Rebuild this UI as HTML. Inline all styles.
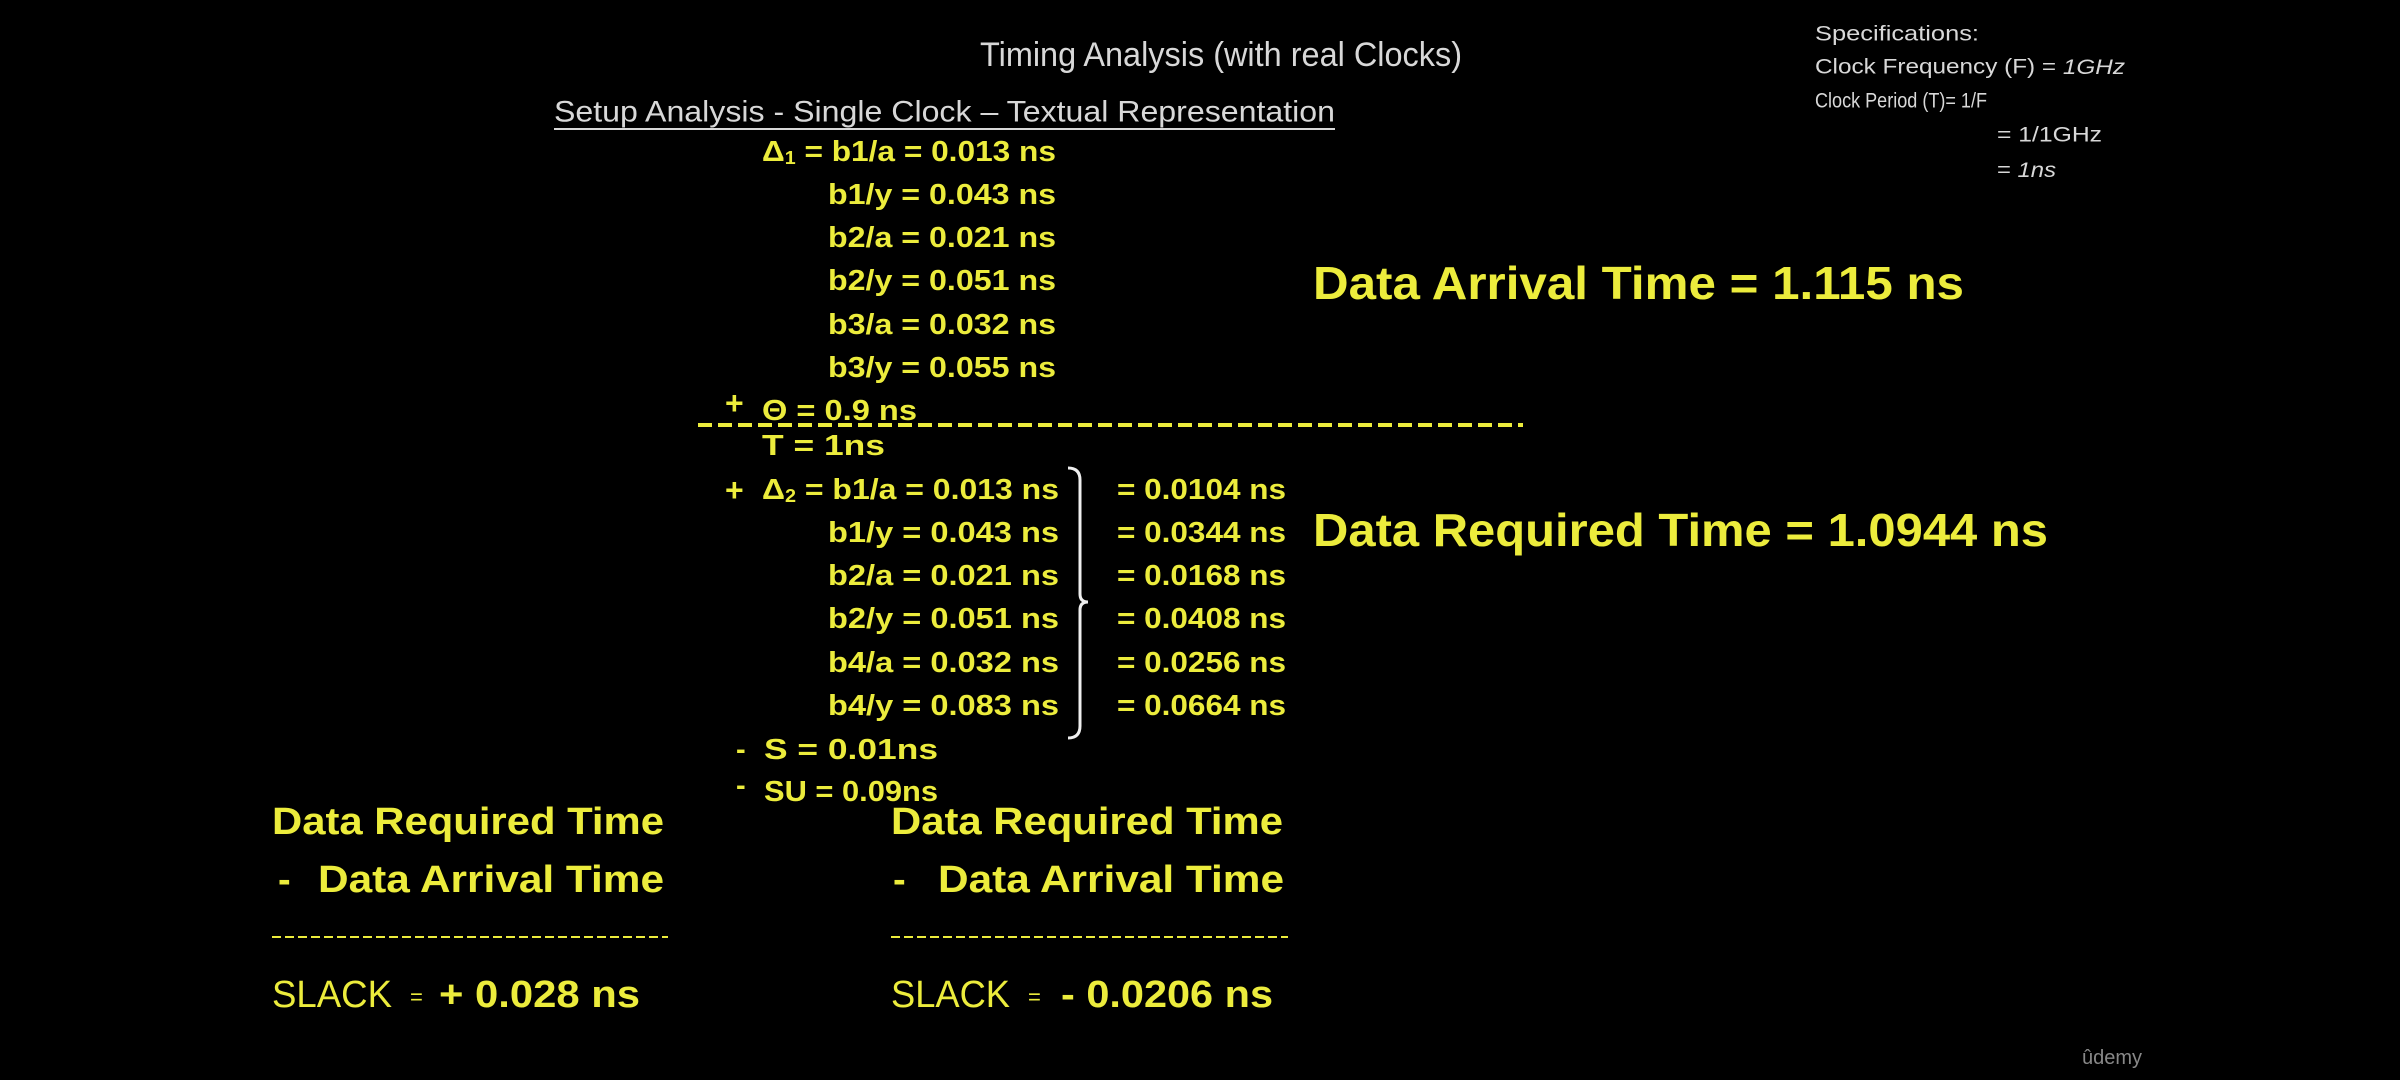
<!DOCTYPE html>
<html><head><meta charset="utf-8"><style>
html,body{margin:0;padding:0;background:#000;}
svg{display:block;}
text{font-family:"Liberation Sans Narrow","Liberation Sans",sans-serif;dominant-baseline:central;}
.y{fill:#ecec3c;font-weight:bold;}
.g{fill:#d8d8d8;}
</style></head><body>
<svg width="2400" height="1080" viewBox="0 0 2400 1080" xmlns="http://www.w3.org/2000/svg">
<rect width="2400" height="1080" fill="#000"/>
<text class="g" x="980" y="55" font-size="34" textLength="482" lengthAdjust="spacingAndGlyphs">Timing Analysis (with real Clocks)</text>
<text class="g" x="554" y="112" font-size="30" textLength="781" lengthAdjust="spacingAndGlyphs">Setup Analysis - Single Clock – Textual Representation</text>
<line x1="554" y1="129" x2="1335" y2="129" stroke="#d8d8d8" stroke-width="2"/>

<g class="g" font-size="21">
<text x="1815" y="34" textLength="164" lengthAdjust="spacingAndGlyphs">Specifications:</text>
<text x="1815" y="67" textLength="310" lengthAdjust="spacingAndGlyphs">Clock Frequency (F) = <tspan font-style="italic">1GHz</tspan></text>
<text x="1815" y="101" textLength="172" lengthAdjust="spacingAndGlyphs">Clock Period (T)= 1/F</text>
<text x="1997" y="135" textLength="105" lengthAdjust="spacingAndGlyphs">= 1/1GHz</text>
<text x="1997" y="170" textLength="59" lengthAdjust="spacingAndGlyphs">= <tspan font-style="italic">1ns</tspan></text>
</g>

<g font-size="29">
<text class="y" x="762" y="152" textLength="294" lengthAdjust="spacingAndGlyphs">Δ<tspan font-size="18" dy="6">1</tspan><tspan dy="-6"> = b1/a = 0.013 ns</tspan></text>
<text class="y" x="828" y="195" textLength="228" lengthAdjust="spacingAndGlyphs">b1/y = 0.043 ns</text>
<text class="y" x="828" y="238" textLength="228" lengthAdjust="spacingAndGlyphs">b2/a = 0.021 ns</text>
<text class="y" x="828" y="281" textLength="228" lengthAdjust="spacingAndGlyphs">b2/y = 0.051 ns</text>
<text class="y" x="828" y="325" textLength="228" lengthAdjust="spacingAndGlyphs">b3/a = 0.032 ns</text>
<text class="y" x="828" y="368" textLength="228" lengthAdjust="spacingAndGlyphs">b3/y = 0.055 ns</text>
<text class="y" x="725" y="403" font-size="32">+</text>
<text class="y" x="762" y="411" textLength="155" lengthAdjust="spacingAndGlyphs">Θ = 0.9 ns</text>
</g>
<line x1="698" y1="425" x2="1523" y2="425" stroke="#ecec3c" stroke-width="4" stroke-dasharray="14 6"/>

<g font-size="29">
<text class="y" x="762" y="446" textLength="123" lengthAdjust="spacingAndGlyphs">T = 1ns</text>
<text class="y" x="725" y="490" font-size="32">+</text>
<text class="y" x="762" y="490" textLength="297" lengthAdjust="spacingAndGlyphs">Δ<tspan font-size="18" dy="6">2</tspan><tspan dy="-6"> = b1/a = 0.013 ns</tspan></text>
<text class="y" x="828" y="533" textLength="231" lengthAdjust="spacingAndGlyphs">b1/y = 0.043 ns</text>
<text class="y" x="828" y="576" textLength="231" lengthAdjust="spacingAndGlyphs">b2/a = 0.021 ns</text>
<text class="y" x="828" y="619" textLength="231" lengthAdjust="spacingAndGlyphs">b2/y = 0.051 ns</text>
<text class="y" x="828" y="663" textLength="231" lengthAdjust="spacingAndGlyphs">b4/a = 0.032 ns</text>
<text class="y" x="828" y="706" textLength="231" lengthAdjust="spacingAndGlyphs">b4/y = 0.083 ns</text>
<path d="M1068 468 Q1080 468 1080 480 L1080 594 Q1080 602 1088 602 Q1080 602 1080 610 L1080 726 Q1080 738 1068 738" fill="none" stroke="#eee" stroke-width="3"/>
<text class="y" x="1117" y="490" textLength="169" lengthAdjust="spacingAndGlyphs">= 0.0104 ns</text>
<text class="y" x="1117" y="533" textLength="169" lengthAdjust="spacingAndGlyphs">= 0.0344 ns</text>
<text class="y" x="1117" y="576" textLength="169" lengthAdjust="spacingAndGlyphs">= 0.0168 ns</text>
<text class="y" x="1117" y="619" textLength="169" lengthAdjust="spacingAndGlyphs">= 0.0408 ns</text>
<text class="y" x="1117" y="663" textLength="169" lengthAdjust="spacingAndGlyphs">= 0.0256 ns</text>
<text class="y" x="1117" y="706" textLength="169" lengthAdjust="spacingAndGlyphs">= 0.0664 ns</text>
<text class="y" x="736" y="750">-</text>
<text class="y" x="764" y="750" textLength="174" lengthAdjust="spacingAndGlyphs">S   = 0.01ns</text>
<text class="y" x="736" y="786">-</text>
<text class="y" x="764" y="792" textLength="174" lengthAdjust="spacingAndGlyphs">SU = 0.09ns</text>
</g>

<text class="y" x="1313" y="283" font-size="46" textLength="651" lengthAdjust="spacingAndGlyphs">Data Arrival Time = 1.115 ns</text>
<text class="y" x="1313" y="530" font-size="46" textLength="735" lengthAdjust="spacingAndGlyphs">Data Required Time = 1.0944 ns</text>

<g font-size="38">
<text class="y" x="272" y="822" textLength="392" lengthAdjust="spacingAndGlyphs">Data Required Time</text>
<text class="y" x="278" y="880">-</text>
<text class="y" x="318" y="880" textLength="346" lengthAdjust="spacingAndGlyphs">Data Arrival Time</text>
<line x1="272" y1="937" x2="668" y2="937" stroke="#ecec3c" stroke-width="2" stroke-dasharray="9 4"/>
<text class="y" x="272" y="995" font-weight="normal" textLength="120" lengthAdjust="spacingAndGlyphs" style="font-weight:normal">SLACK</text>
<text class="y" x="410" y="997" font-size="22" style="font-weight:normal">=</text>
<text class="y" x="439" y="995" textLength="201" lengthAdjust="spacingAndGlyphs">+ 0.028 ns</text>
</g>
<g font-size="38">
<text class="y" x="891" y="822" textLength="392" lengthAdjust="spacingAndGlyphs">Data Required Time</text>
<text class="y" x="893" y="880">-</text>
<text class="y" x="938" y="880" textLength="346" lengthAdjust="spacingAndGlyphs">Data Arrival Time</text>
<line x1="891" y1="937" x2="1288" y2="937" stroke="#ecec3c" stroke-width="2" stroke-dasharray="9 4"/>
<text class="y" x="891" y="995" textLength="119" lengthAdjust="spacingAndGlyphs" style="font-weight:normal">SLACK</text>
<text class="y" x="1028" y="997" font-size="22" style="font-weight:normal">=</text>
<text class="y" x="1061" y="995" textLength="212" lengthAdjust="spacingAndGlyphs">- 0.0206 ns</text>
</g>
<text x="2082" y="1058" font-size="20" fill="#888">ûdemy</text>
</svg>
</body></html>
